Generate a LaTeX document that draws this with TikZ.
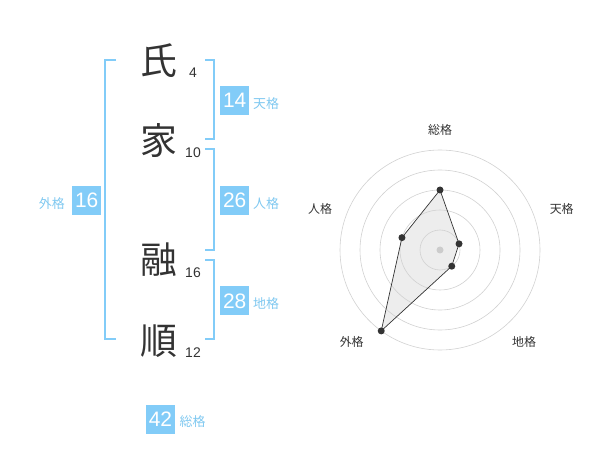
\documentclass[tikz,border=0pt]{standalone}
\usepackage{fontspec}
\setmainfont{Liberation Sans}
\newfontfamily\jpfont{Noto Sans CJK JP}
\usetikzlibrary{positioning,calc}
\definecolor{kakublue}{HTML}{82CCF8}
\definecolor{kakutext}{HTML}{7FC8F0}
\definecolor{inkgray}{HTML}{333333}
\tikzset{
  kanji/.style={text=inkgray,inner sep=0,font=\jpfont\fontsize{37}{37}\selectfont},
  strokes/.style={text=inkgray,inner sep=0,font=\fontsize{14}{14}\selectfont},
  kakubox/.style={fill=kakublue,text=white,inner sep=0,minimum width=29bp,minimum height=29bp,font=\fontsize{21}{21}\selectfont},
  kakulabel/.style={text=kakutext,inner sep=0,font=\jpfont\fontsize{13}{13}\selectfont},
  bracket/.style={draw=kakublue,line width=2bp},
  ring/.style={draw=black!18,line width=0.6bp},
  axislabel/.style={text=inkgray,inner sep=0,font=\jpfont\fontsize{12}{12}\selectfont},
}
\begin{document}
\begin{tikzpicture}[x=1bp,y=-1bp]
  \useasboundingbox (0,0) rectangle (600,470);
  % name
  \node[kanji] (c1) at (159,61) {氏};
  \node[kanji] (c2) at (159,141) {家};
  \node[kanji] (c3) at (159,260) {融};
  \node[kanji] (c4) at (159,341) {順};
  \node[strokes] (n1) at (193,73) {4};
  \node[strokes] (n2) at (193,153) {10};
  \node[strokes] (n3) at (193,272.5) {16};
  \node[strokes] (n4) at (193,353) {12};
  % brackets
  \draw[bracket] (116,60) -- (105,60) -- (105,339) -- (116,339);
  \draw[bracket] (205,60) -- (214,60) -- (214,139) -- (205,139);
  \draw[bracket] (205,149) -- (214,149) -- (214,250) -- (205,250);
  \draw[bracket] (205,260) -- (214,260) -- (214,339) -- (205,339);
  % scores
  \node[kakubox] (ten) at (234.7,100.5) {14};
  \node[kakulabel,anchor=west] (tenl) at (253,103.5) {天格};
  \node[kakubox] (jin) at (234.7,200.5) {26};
  \node[kakulabel,anchor=west] (jinl) at (253,203.5) {人格};
  \node[kakubox] (chi) at (234.7,300.8) {28};
  \node[kakulabel,anchor=west] (chil) at (253,303.8) {地格};
  \node[kakubox] (gai) at (86.7,200.5) {16};
  \node[kakulabel,anchor=east] (gail) at (65,203.5) {外格};
  \node[kakubox] (sou) at (160.5,419) {42};
  \node[kakulabel,anchor=west] (soul) at (179.5,422) {総格};
  % radar
  \begin{scope}[shift={(440,250)},y=1bp]
    \foreach \name/\ang/\val in {rsou/90/3,rten/18/1,rchi/-54/1,rgai/-126/5,rjin/162/2}
      \coordinate (\name) at (\ang:\val*20);
    \fill[black!7] (rsou) -- (rten) -- (rchi) -- (rgai) -- (rjin) -- cycle;
    \foreach \r in {20,40,...,100}
      \draw[ring] (0,0) circle (\r);
    \fill[black!20] (0,0) circle (3.5);
    \draw[inkgray,line width=0.7bp] (rsou) -- (rten) -- (rchi) -- (rgai) -- (rjin) -- cycle;
    \foreach \name in {rsou,rten,rchi,rgai,rjin}
      \fill[inkgray] (\name) circle (3.5);
    \node[axislabel] (asou) at (0,120) {総格};
    \node[axislabel] (aten) at (121.7,41) {天格};
    \node[axislabel] (achi) at (84,-91.7) {地格};
    \node[axislabel] (agai) at (-88.3,-91.7) {外格};
    \node[axislabel] (ajin) at (-120,41) {人格};
  \end{scope}
\end{tikzpicture}
\end{document}
